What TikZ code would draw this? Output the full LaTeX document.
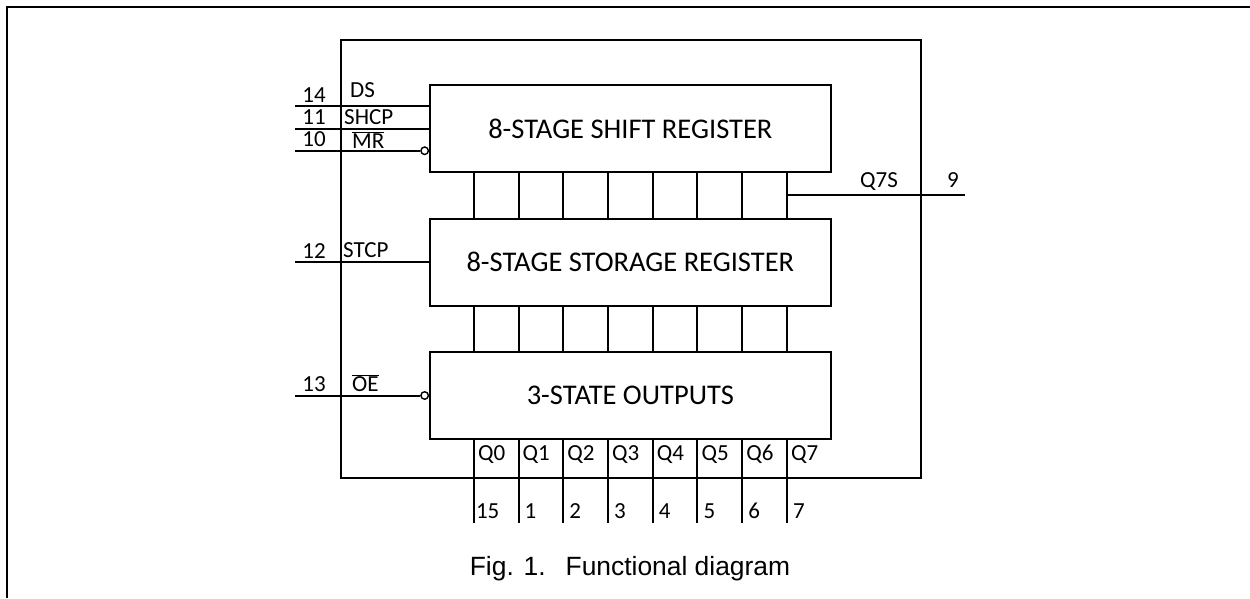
\documentclass[tikz,border=0pt]{standalone}
\usepackage{fontspec}
\setmainfont{Carlito}
\newfontfamily\captionfont{Liberation Sans}
\usetikzlibrary{positioning, calc}

\begin{document}
\begin{tikzpicture}[
    x=1pt, y=-1pt,
    node distance=44.5pt,
    % Styles
    frameline/.style={
        draw=black,
        line width=2pt
    },
    chipbox/.style={
        rectangle,
        draw=black,
        line width=2pt,
        minimum width=580pt,
        minimum height=438pt
    },
    stagebox/.style={
        rectangle,
        draw=black,
        fill=white,
        line width=2pt,
        minimum width=400.5pt,
        minimum height=87pt,
        font=\fontsize{28.5}{34}\selectfont
    },
    bubble/.style={
        circle,
        draw=black,
        fill=white,
        line width=1.4pt,
        minimum size=7.5pt,
        inner sep=0pt
    },
    wire/.style={
        draw=black,
        line width=2pt
    },
    pinnum/.style={
        anchor=base,
        inner sep=0pt,
        font=\fontsize{23}{27}\selectfont
    },
    signame/.style={
        anchor=base west,
        inner sep=0pt,
        font=\fontsize{23}{27}\selectfont
    }
]

    \useasboundingbox (0,0) rectangle (1250,598);
    \draw[frameline] (1250,7) -- (7,7) -- (7,598);

    % ================= CHIP OUTLINE =================
    \node[chipbox] (chip) at (631,259) {};

    % ================= THREE STAGES =================
    \node[stagebox] (shift) at (630.35,128.5) {8-STAGE SHIFT REGISTER};
    \node[stagebox, below=of shift] (storage) {8-STAGE STORAGE REGISTER};
    \node[stagebox, below=of storage] (outputs) {3-STATE OUTPUTS};

    % ================= BUS COLUMNS =================
    \coordinate (c1) at ($(shift.south west)!1/9!(shift.south east)$);
    \coordinate (c2) at ($(shift.south west)!2/9!(shift.south east)$);
    \coordinate (c3) at ($(shift.south west)!3/9!(shift.south east)$);
    \coordinate (c4) at ($(shift.south west)!4/9!(shift.south east)$);
    \coordinate (c5) at ($(shift.south west)!5/9!(shift.south east)$);
    \coordinate (c6) at ($(shift.south west)!6/9!(shift.south east)$);
    \coordinate (c7) at ($(shift.south west)!7/9!(shift.south east)$);
    \coordinate (c8) at ($(shift.south west)!8/9!(shift.south east)$);
    \coordinate (pinbottom) at (0,522.7);

    \draw[wire] (c1) -- (c1 |- storage.north) (c1 |- storage.south) -- (c1 |- outputs.north) (c1 |- outputs.south) -- (c1 |- pinbottom);
    \draw[wire] (c2) -- (c2 |- storage.north) (c2 |- storage.south) -- (c2 |- outputs.north) (c2 |- outputs.south) -- (c2 |- pinbottom);
    \draw[wire] (c3) -- (c3 |- storage.north) (c3 |- storage.south) -- (c3 |- outputs.north) (c3 |- outputs.south) -- (c3 |- pinbottom);
    \draw[wire] (c4) -- (c4 |- storage.north) (c4 |- storage.south) -- (c4 |- outputs.north) (c4 |- outputs.south) -- (c4 |- pinbottom);
    \draw[wire] (c5) -- (c5 |- storage.north) (c5 |- storage.south) -- (c5 |- outputs.north) (c5 |- outputs.south) -- (c5 |- pinbottom);
    \draw[wire] (c6) -- (c6 |- storage.north) (c6 |- storage.south) -- (c6 |- outputs.north) (c6 |- outputs.south) -- (c6 |- pinbottom);
    \draw[wire] (c7) -- (c7 |- storage.north) (c7 |- storage.south) -- (c7 |- outputs.north) (c7 |- outputs.south) -- (c7 |- pinbottom);
    \draw[wire] (c8) -- (c8 |- storage.north) (c8 |- storage.south) -- (c8 |- outputs.north) (c8 |- outputs.south) -- (c8 |- pinbottom);

    % Output names
    \node[signame] (q0) at ($(c1 |- outputs.south)+(4,20)$) {Q0};
    \node[signame] (q1) at ($(c2 |- outputs.south)+(4,20)$) {Q1};
    \node[signame] (q2) at ($(c3 |- outputs.south)+(4,20)$) {Q2};
    \node[signame] (q3) at ($(c4 |- outputs.south)+(4,20)$) {Q3};
    \node[signame] (q4) at ($(c5 |- outputs.south)+(4,20)$) {Q4};
    \node[signame] (q5) at ($(c6 |- outputs.south)+(4,20)$) {Q5};
    \node[signame] (q6) at ($(c7 |- outputs.south)+(4,20)$) {Q6};
    \node[signame] (q7) at ($(c8 |- outputs.south)+(4,20)$) {Q7};

    % Output pin numbers
    \node[signame] (n15) at ($(c1 |- pinbottom)+(2,-4.4)$) {15};
    \node[signame] (n1) at ($(c2 |- pinbottom)+(6,-4.4)$) {1};
    \node[signame] (n2) at ($(c3 |- pinbottom)+(6,-4.4)$) {2};
    \node[signame] (n3) at ($(c4 |- pinbottom)+(6,-4.4)$) {3};
    \node[signame] (n4) at ($(c5 |- pinbottom)+(6,-4.4)$) {4};
    \node[signame] (n5) at ($(c6 |- pinbottom)+(6,-4.4)$) {5};
    \node[signame] (n6) at ($(c7 |- pinbottom)+(6,-4.4)$) {6};
    \node[signame] (n7) at ($(c8 |- pinbottom)+(6,-4.4)$) {7};

    % ================= INPUT PINS =================
    \coordinate (pinleft) at (295,0);
    \coordinate (ds) at ($(shift.north west)!0.25!(shift.south west)$);
    \coordinate (shcp) at ($(shift.north west)!0.5!(shift.south west)$);
    \coordinate (mr) at ($(shift.north west)!0.75!(shift.south west)$);
    \coordinate (stcp) at (storage.west);
    \coordinate (oe) at (outputs.west);

    \node[bubble, anchor=east] (mrbubble) at (mr) {};
    \node[bubble, anchor=east] (oebubble) at (oe) {};

    \draw[wire] (ds -| pinleft) -- (ds);
    \draw[wire] (shcp -| pinleft) -- (shcp);
    \draw[wire] (mr -| pinleft) -- (mrbubble);
    \draw[wire] (stcp -| pinleft) -- (stcp);
    \draw[wire] (oe -| pinleft) -- (oebubble);

    \node[pinnum] (n14) at ($(ds -| pinleft)+(19,-4)$) {14};
    \node[pinnum] (n11) at ($(shcp -| pinleft)+(19,-4)$) {11};
    \node[pinnum] (n10) at ($(mr -| pinleft)+(19,-4)$) {10};
    \node[pinnum] (n12) at ($(stcp -| pinleft)+(19,-4)$) {12};
    \node[pinnum] (n13) at ($(oe -| pinleft)+(19,-4)$) {13};

    \node[signame] (dsname) at ($(ds -| chip.west)+(10,-9)$) {DS};
    \node[signame] (shcpname) at ($(shcp -| chip.west)+(4,-4)$) {SHCP};
    \node[signame] (mrname) at ($(mr -| chip.west)+(12,-2.5)$) {$\overline{\hbox{MR}}$};
    \node[signame] (stcpname) at ($(stcp -| chip.west)+(3,-4.3)$) {STCP};
    \node[signame] (oename) at ($(oe -| chip.west)+(12,-3.7)$) {$\overline{\hbox{OE}}$};

    % ================= SERIAL OUTPUT =================
    \coordinate (q7s) at ($(c8)!0.5!(c8 |- storage.north)$);
    \coordinate (pinright) at (965,0);
    \draw[wire] (q7s) -- (q7s -| pinright);
    \node[signame] (q7sname) at ($(q7s -| chip.east)+(-62,-7.3)$) {Q7S};
    \node[signame] (n9) at ($(q7s -| chip.east)+(25,-7.3)$) {9};

    % ================= CAPTION =================
    \node[anchor=base, inner sep=0pt, font=\captionfont\fontsize{26.4}{30}\selectfont] (caption) at (630,575) {Fig. 1.\hspace{20pt}Functional diagram};

\end{tikzpicture}
\end{document}
